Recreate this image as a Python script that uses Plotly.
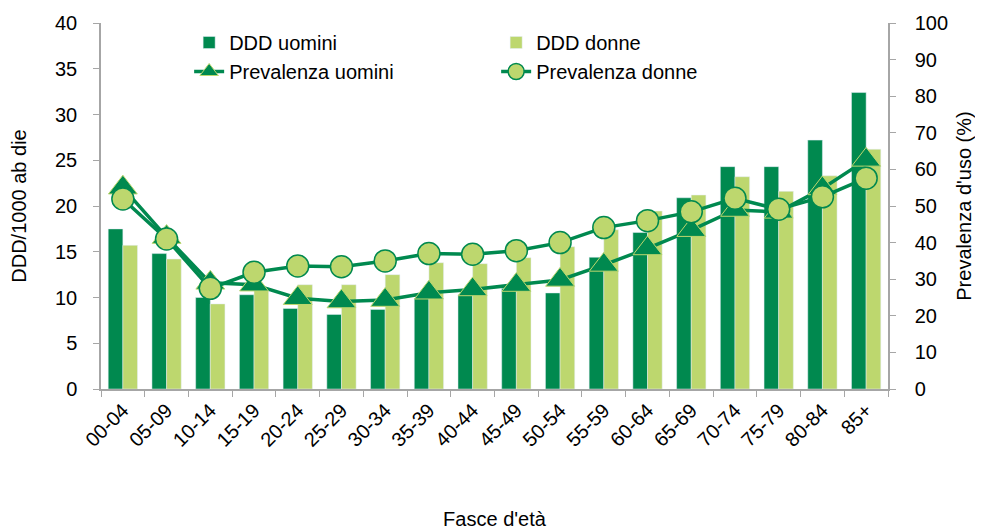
import plotly.graph_objects as go

categories = ["00-04","05-09","10-14","15-19","20-24","25-29","30-34","35-39","40-44",
              "45-49","50-54","55-59","60-64","65-69","70-74","75-79","80-84","85+"]
ddd_uomini = [17.5,14.8,10.0,10.3,8.8,8.15,8.7,9.9,10.3,11.0,10.5,14.4,17.1,20.9,24.3,24.3,27.2,32.4]
ddd_donne = [15.7,14.2,9.3,10.8,11.4,11.4,12.5,13.8,13.7,14.35,15.55,17.4,19.45,21.2,23.2,21.6,23.3,26.2]
prev_uomini = [55.0,41.5,29.0,28.5,24.8,23.9,24.3,26.3,27.2,28.4,29.8,33.9,38.4,43.4,48.9,48.4,54.8,62.6]
prev_donne = [51.9,41.0,27.5,31.9,33.6,33.4,35.0,37.0,36.8,37.8,40.0,44.1,46.0,48.4,52.1,49.1,52.5,57.6]

DARK = "#00894F"
LIGHT = "#BDD76E"
GRAY = "#A6A6A6"
FONT = "Liberation Sans, Arial, sans-serif"
FS = 20

fig = go.Figure()
fig.add_trace(go.Bar(x=categories, y=ddd_uomini, name="DDD uomini", marker_color=DARK))
fig.add_trace(go.Bar(x=categories, y=ddd_donne, name="DDD donne", marker_color=LIGHT))
fig.add_trace(go.Scatter(x=categories, y=prev_uomini, name="Prevalenza uomini", yaxis="y2",
                         mode="lines+markers", line=dict(color=DARK, width=3.5),
                         marker=dict(symbol="triangle-up", size=25, color=DARK,
                                     line=dict(color=LIGHT, width=1))))
fig.add_trace(go.Scatter(x=categories, y=prev_donne, name="Prevalenza donne", yaxis="y2",
                         mode="lines+markers", line=dict(color=DARK, width=3.5),
                         marker=dict(symbol="circle", size=22, color=LIGHT,
                                     line=dict(color=DARK, width=1.5))))

fig.update_layout(
    width=975, height=522,
    margin=dict(l=93, r=95, t=15, b=141, autoexpand=False),
    plot_bgcolor="white", paper_bgcolor="white",
    font=dict(family=FONT, size=FS, color="#000000"),
    barmode="group", bargap=0.33, bargroupgap=0,
    showlegend=True,
    legend=dict(orientation="h", x=0.112, y=1.0, xanchor="left", yanchor="top",
                entrywidth=262, entrywidthmode="pixels", traceorder="normal",
                font=dict(size=FS), bgcolor="rgba(0,0,0,0)", tracegroupgap=0),
    xaxis=dict(type="category", range=[-0.5, 17.5], automargin=True,
               showline=True, linecolor=GRAY, linewidth=1.5, ticks="outside",
               tickcolor=GRAY, ticklen=6, tickson="boundaries", tickangle=-45,
               showgrid=False, tickfont=dict(size=FS),
               title=dict(text="Fasce d'età", font=dict(size=FS), standoff=63)),
    yaxis=dict(range=[0, 40], dtick=5, automargin=True, showline=True, linecolor=GRAY,
               linewidth=1.5, ticks="outside", tickcolor=GRAY, ticklen=6,
               ticklabelstandoff=12, showgrid=False, zeroline=False,
               tickfont=dict(size=FS),
               title=dict(text="DDD/1000 ab die", font=dict(size=FS), standoff=28)),
    yaxis2=dict(range=[0, 100], dtick=10, overlaying="y", side="right", automargin=True,
                showline=True, linecolor=GRAY, linewidth=1.5, ticks="outside",
                tickcolor=GRAY, ticklen=6, ticklabelstandoff=15,
                showgrid=False, zeroline=False, tickfont=dict(size=FS),
                title=dict(text="Prevalenza d'uso (%)", font=dict(size=FS), standoff=10)),
)

fig.write_html("out.html")
